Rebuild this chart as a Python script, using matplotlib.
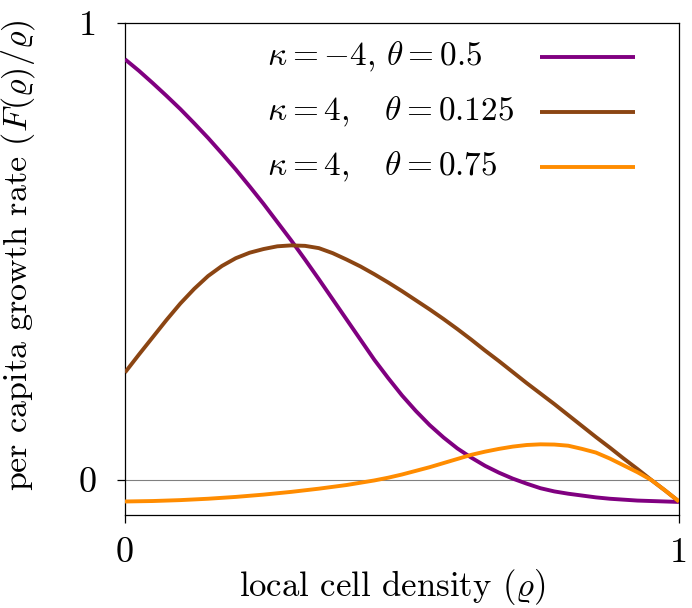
import numpy as np
import matplotlib
matplotlib.use("Agg")
import matplotlib.pyplot as plt

plt.rcParams['font.family'] = 'serif'
plt.rcParams['font.serif'] = ['cmr10']
plt.rcParams['mathtext.fontset'] = 'cm'
plt.rcParams['axes.formatter.use_mathtext'] = True

# local cell density grid (values every 0.025)
rho = [0.000, 0.025, 0.050, 0.075, 0.100, 0.125, 0.150, 0.175, 0.200, 0.225,
       0.250, 0.275, 0.300, 0.325, 0.350, 0.375, 0.400, 0.425, 0.450, 0.475,
       0.500, 0.525, 0.550, 0.575, 0.600, 0.625, 0.650, 0.675, 0.700, 0.725,
       0.750, 0.775, 0.800, 0.825, 0.850, 0.875, 0.900, 0.925, 0.950, 0.975, 1.000]

# kappa = -4, theta = 0.5
rate_purple = [0.920, 0.895, 0.868, 0.840, 0.811, 0.780, 0.748, 0.714, 0.679, 0.642,
               0.604, 0.564, 0.524, 0.482, 0.439, 0.395, 0.351, 0.307, 0.263, 0.223,
               0.185, 0.151, 0.120, 0.093, 0.069, 0.049, 0.031, 0.016, 0.003, -0.008,
               -0.018, -0.025, -0.030, -0.034, -0.038, -0.041, -0.043, -0.045, -0.046, -0.047, -0.048]
# kappa = 4, theta = 0.125
rate_brown = [0.235, 0.274, 0.312, 0.350, 0.386, 0.418, 0.446, 0.468, 0.485, 0.497,
              0.505, 0.511, 0.513, 0.512, 0.507, 0.496, 0.482, 0.467, 0.450, 0.432,
              0.413, 0.393, 0.373, 0.352, 0.330, 0.307, 0.283, 0.260, 0.236, 0.212,
              0.189, 0.166, 0.142, 0.118, 0.094, 0.071, 0.047, 0.024, 0.000, -0.023, -0.047]
# kappa = 4, theta = 0.75
rate_orange = [-0.047, -0.0465, -0.046, -0.045, -0.044, -0.0425, -0.041, -0.039, -0.037, -0.0345,
               -0.032, -0.029, -0.026, -0.0225, -0.019, -0.015, -0.011, -0.006, -0.001, 0.005,
               0.012, 0.020, 0.028, 0.037, 0.046, 0.055, 0.062, 0.068, 0.073, 0.0765,
               0.078, 0.0775, 0.075, 0.068, 0.060, 0.047, 0.032, 0.017, 0.000, -0.023, -0.047]

labels = [r'$\kappa = -4,\,\theta = 0.5$',
          r'$\kappa = 4,\quad\theta = 0.125$',
          r'$\kappa = 4,\quad\theta = 0.75$']
colors = ['#800080', '#8b4513', '#ff8c00']

fig = plt.figure(figsize=(6.92, 6.08), dpi=100)
ax = fig.add_axes([0.1806, 0.153, 0.8006, 0.8097])

ax.axhline(0, color='gray', lw=0.8, zorder=1)
for series, col in zip([rate_purple, rate_brown, rate_orange], colors):
	ax.plot(rho, series, color=col, lw=2.8, solid_capstyle='butt', zorder=3)

# hand made legend: text on the left, line sample on the right
legend_rows = [0.930, 0.819, 0.707]
for lab, col, yy in zip(labels, colors, legend_rows):
	ax.text(0.256, yy, lab, transform=ax.transAxes, fontsize=24, va='center', ha='left')
	ax.plot([0.749, 0.921], [yy, yy], transform=ax.transAxes, color=col, lw=2.8, solid_capstyle='butt')

ax.set_xlim(0, 1)
ax.set_ylim(-0.0765, 1)
ax.set_xticks([0, 1])
ax.set_yticks([0, 1])
ax.set_xticklabels(['0', '1'])
ax.set_yticklabels(['0', '1'])
ax.tick_params(axis='both', direction='out', length=6, width=0.9, labelsize=26)
ax.tick_params(axis='x', pad=10)
ax.tick_params(axis='y', pad=14)
for s in ax.spines.values():
	s.set_linewidth(0.9)

ax.set_xlabel(r'local cell density $(\varrho)$', fontsize=25)
ax.set_ylabel(r'per capita growth rate $(F(\varrho)/\varrho)$', fontsize=24.5)
ax.xaxis.set_label_coords(0.482, -0.106)
ax.yaxis.set_label_coords(-0.159, 0.528)

fig.savefig('out.png', dpi=100)
